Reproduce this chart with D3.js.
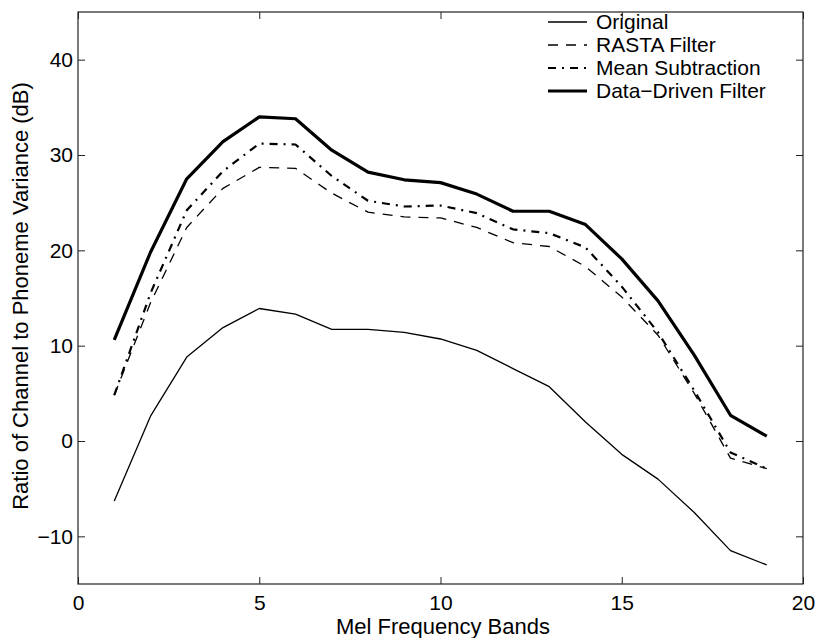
<!DOCTYPE html>
<html>
<head>
<meta charset="utf-8">
<script src="https://cdn.jsdelivr.net/npm/d3@7"></script>
<style>
  body { margin: 0; background: #fff; }
  text { font-family: "Liberation Sans", Arial, Helvetica, sans-serif; fill: #000; }
</style>
</head>
<body>
<script>
/***** Data *****/
var bands = [1, 2, 3, 4, 5, 6, 7, 8, 9, 10, 11, 12, 13, 14, 15, 16, 17, 18, 19];
var original = [-6.3, 2.6, 8.8, 11.9, 13.9, 13.3, 11.7, 11.7, 11.4, 10.7, 9.5, 7.6, 5.7, 2.0, -1.4, -4.0, -7.5, -11.5, -13.0];
var rasta = [4.8, 14.5, 22.4, 26.5, 28.7, 28.6, 26.0, 24.0, 23.5, 23.4, 22.4, 20.8, 20.4, 18.3, 15.1, 11.1, 5.0, -1.8, -2.9];
var meanSub = [4.8, 15.5, 24.2, 28.3, 31.2, 31.1, 27.8, 25.2, 24.6, 24.7, 23.9, 22.2, 21.8, 20.3, 16.2, 11.4, 5.3, -1.2, -2.9];
var dataDriven = [10.6, 19.8, 27.5, 31.4, 34.0, 33.8, 30.5, 28.2, 27.4, 27.1, 25.9, 24.1, 24.1, 22.7, 19.1, 14.7, 9.0, 2.7, 0.5];
var seriesNames = ["Original", "RASTA Filter", "Mean Subtraction", "Data\u2212Driven Filter"];
var xTicks = [0, 5, 10, 15, 20];
var yTicks = [-10, 0, 10, 20, 30, 40];

(function (d3) {
  "use strict";

  /***** Configuration *****/
  var margin = { top: 12, right: 17, bottom: 54, left: 78 };
  var width = 820 - margin.left - margin.right;
  var height = 638 - margin.top - margin.bottom;

  // line styles, one per series (same order as seriesNames)
  var styles = [
    { w: 1.3, dash: null },
    { w: 1.3, dash: "10,8" },
    { w: 2.2, dash: "8,6,2,6" },
    { w: 3.2, dash: null }
  ];
  var series = [original, rasta, meanSub, dataDriven];

  /***** Scales *****/
  var x = d3.scaleLinear().domain([0, 20]).range([0, width]);
  var y = d3.scaleLinear().domain([-15, 45]).range([height, 0]);

  var svg = d3.select("body").append("svg")
    .attr("width", 820)
    .attr("height", 638);

  var g = svg.append("g")
    .attr("transform", "translate(" + margin.left + "," + margin.top + ")");

  /***** Axes (ticks point inward, box on all sides) *****/
  var xAxis = d3.axisBottom(x).tickValues(xTicks).tickSizeInner(-7).tickSizeOuter(0).tickPadding(11);
  var yAxis = d3.axisLeft(y).tickValues(yTicks).tickSizeInner(-7).tickSizeOuter(0).tickPadding(5)
    .tickFormat(function (d) { return d < 0 ? "\u2212" + Math.abs(d) : d; });
  var xTop = d3.axisTop(x).tickValues(xTicks).tickSizeInner(-7).tickSizeOuter(0).tickFormat("");
  var yRight = d3.axisRight(y).tickValues(yTicks).tickSizeInner(-7).tickSizeOuter(0).tickFormat("");

  g.append("g").attr("transform", "translate(0," + height + ")").call(xAxis);
  g.append("g").call(yAxis);
  g.append("g").call(xTop);
  g.append("g").attr("transform", "translate(" + width + ",0)").call(yRight);

  g.selectAll(".domain").remove();
  g.selectAll(".tick line").attr("stroke", "#222");
  g.selectAll(".tick text").style("font-size", "21px").attr("fill", "#000");

  g.append("rect")
    .attr("width", width)
    .attr("height", height)
    .attr("fill", "none")
    .attr("stroke", "#222")
    .attr("stroke-width", 1.2);

  /***** Lines *****/
  var line = d3.line()
    .x(function (d, i) { return x(bands[i]); })
    .y(function (d) { return y(d); });

  series.forEach(function (vals, k) {
    g.append("path")
      .datum(vals)
      .attr("fill", "none")
      .attr("stroke", "#000")
      .attr("stroke-width", styles[k].w)
      .attr("stroke-dasharray", styles[k].dash)
      .attr("stroke-linejoin", "round")
      .attr("d", line);
  });

  /***** Legend *****/
  var legend = svg.append("g");
  var rowY = [22, 45, 68, 91];
  seriesNames.forEach(function (name, k) {
    legend.append("line")
      .attr("x1", 548).attr("x2", 587)
      .attr("y1", rowY[k]).attr("y2", rowY[k])
      .attr("stroke", "#000")
      .attr("stroke-width", styles[k].w)
      .attr("stroke-dasharray", styles[k].dash);
    legend.append("text")
      .attr("x", 596)
      .attr("y", rowY[k])
      .attr("dy", "0.35em")
      .style("font-size", "21px")
      .text(name);
  });

  /***** Axis titles *****/
  svg.append("text")
    .attr("x", 443)
    .attr("y", 634)
    .attr("text-anchor", "middle")
    .style("font-size", "22px")
    .text("Mel Frequency Bands");

  svg.append("text")
    .attr("transform", "translate(28,296) rotate(-90)")
    .attr("text-anchor", "middle")
    .style("font-size", "22px")
    .text("Ratio of Channel to Phoneme Variance (dB)");

})(d3);
</script>
</body>
</html>
